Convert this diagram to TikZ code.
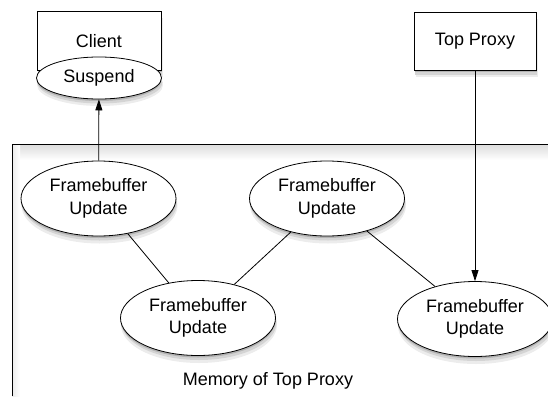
\documentclass[tikz,border=0pt]{standalone}
\usepackage{fontspec}
\setmainfont{Liberation Sans}
\usetikzlibrary{arrows.meta,positioning,shapes.geometric}
\definecolor{shadelight}{RGB}{236,236,236}
\definecolor{shademid}{RGB}{212,212,212}
\definecolor{shadedark}{RGB}{178,178,178}
\tikzset{font=\fontsize{18}{22.5}\selectfont}
\tikzset{every node/.append style={transform shape=false}}
\tikzset{msg/.style={draw,fill=white,ellipse,minimum width=155pt,minimum height=75pt,inner sep=0pt,align=center}}
\tikzset{actor/.style={draw,fill=white,rectangle,inner sep=0pt}}
\tikzset{link/.style={line width=0.8pt}}
\tikzset{send/.style={line width=0.8pt,-{Triangle[length=11pt,width=7pt]}}}
\tikzset{shadowa/.style={fill=shadelight}}
\tikzset{shadowb/.style={fill=shademid}}
\tikzset{shadowc/.style={fill=shadedark}}

\begin{document}
\begin{tikzpicture}[line width=0.8pt]
  \path[use as bounding box] (0pt,0pt) rectangle (548pt,-396pt);

  % memory area
  \shade[top color=black!14,bottom color=white] (12pt,-144pt) rectangle (548pt,-160pt);
  \shade[left color=black!8,right color=white] (12pt,-144pt) rectangle (20pt,-396pt);
  \draw (548pt,-144pt) -- (12pt,-144pt) -- (12pt,-396pt);

  % shadows
  \foreach \cx/\cy in {98.5/198.5, 327/198.5, 198/318, 475/319}{
    \fill[shadowa] (\cx pt+1pt,-\cy pt-7pt) ellipse (78pt and 38pt);
    \fill[shadowb] (\cx pt+1pt,-\cy pt-4.5pt) ellipse (77.5pt and 37.5pt);
    \fill[shadowc] (\cx pt,-\cy pt-2pt) ellipse (77.5pt and 37.5pt);
  }
  \fill[shadowa] (100pt,-85pt) ellipse (63pt and 21pt);
  \fill[shadowb] (100pt,-82.5pt) ellipse (62.5pt and 21pt);
  \fill[shadowc] (99pt,-80pt) ellipse (62.5pt and 21pt);
  \fill[shadowa] (38.5pt,-77pt) rectangle (162.5pt,-18pt);
  \fill[shadowb] (38pt,-74.5pt) rectangle (162pt,-15.5pt);
  \fill[shadowc] (37.5pt,-72pt) rectangle (161.5pt,-13pt);
  \fill[shadowa] (415.5pt,-77pt) rectangle (537.5pt,-19pt);
  \fill[shadowb] (415pt,-74.5pt) rectangle (537pt,-16.5pt);
  \fill[shadowc] (414.5pt,-72pt) rectangle (536.5pt,-14pt);

  \node (mem) at (268pt,-381pt) {Memory of Top Proxy};

  \node[actor,minimum width=124pt,minimum height=59pt] (client) at (99pt,-40.5pt) {};
  \node (clientlabel) at (99pt,-41pt) {Client};
  \node[draw,fill=white,ellipse,minimum width=125pt,minimum height=42pt,inner sep=0pt] (suspend) at (99pt,-78pt) {Suspend};
  \node[actor,minimum width=122pt,minimum height=58pt] (top) at (475pt,-41pt) {Top Proxy};

  \node[msg] (fb1) at (98.5pt,-198.5pt) {Framebuffer\\Update};
  \node[msg] (fb2) at (327pt,-198.5pt) {Framebuffer\\Update};
  \node[msg] (fb3) at (198pt,-318pt) {Framebuffer\\Update};
  \node[msg] (fb4) at (475pt,-319pt) {Framebuffer\\Update};

  \draw[link] (fb1) -- (fb3);
  \draw[link] (fb2) -- (fb3);
  \draw[link] (fb2) -- (fb4);

  \draw[send] (fb1) -- (suspend);
  \draw[send] (top) -- (fb4);
\end{tikzpicture}
\end{document}
